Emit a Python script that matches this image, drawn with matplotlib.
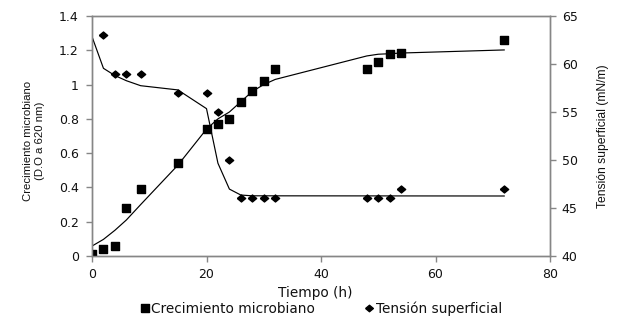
import matplotlib
matplotlib.use("Agg")
import matplotlib.pyplot as plt
from matplotlib.lines import Line2D

plt.rcParams['font.family'] = ['DejaVu Sans']

# Growth data (D.O a 620 nm)
t_growth = [0, 2, 4, 6, 8.5, 15, 20, 22, 24, 26, 28, 30, 32, 48, 50, 52, 54, 72]
growth = [0.01, 0.04, 0.06, 0.28, 0.39, 0.54, 0.74, 0.77, 0.80, 0.90, 0.96, 1.02, 1.09,
          1.09, 1.13, 1.18, 1.185, 1.26]

# Surface tension data (mN/m)
t_tension = [2, 4, 6, 8.5, 15, 20, 22, 24, 26, 28, 30, 32, 48, 50, 52, 54, 72]
tension = [63, 59, 59, 59, 57, 57, 55, 50, 46, 46, 46, 46, 46, 46, 46, 47, 47]

# Fitted model curves
t_fit_g = [0, 2, 4, 6, 8.5, 15, 20, 22, 24, 26, 28, 30, 32, 48, 50, 52, 54, 72]
fit_growth = [0.058, 0.097, 0.15, 0.21, 0.30, 0.53, 0.74, 0.80, 0.84, 0.90, 0.96, 1.0, 1.03,
              1.167, 1.177, 1.18, 1.184, 1.202]
t_fit_t = [0, 2, 4, 6, 8.5, 15, 20, 22, 24, 26, 28, 72]
fit_tension = [62.85, 59.55, 58.8, 58.26, 57.74, 57.3, 55.35, 49.66, 46.97, 46.35, 46.27, 46.25]

SQ = [(-1.15, -1), (1.15, -1), (1.15, 1), (-1.15, 1), (-1.15, -1)]
DIA = [(-1.2, 0), (0, -1), (1.2, 0), (0, 1), (-1.2, 0)]

fig = plt.figure(figsize=(6.17, 3.2), dpi=100)
ax = fig.add_axes([92/617, 64/320, 458/617, 240/320])
ax2 = ax.twinx()

gray = '#868686'
ax.plot(t_fit_g, fit_growth, color='black', lw=0.85, zorder=2)
ax.plot(t_growth, growth, linestyle='none', marker=SQ, ms=6.0, color='black', zorder=3)
ax2.plot(t_fit_t, fit_tension, color='black', lw=0.85, zorder=2)
ax2.plot(t_tension, tension, linestyle='none', marker=DIA, ms=6.0, color='black', zorder=3)

ax.set_xlim(0, 80)
ax.set_ylim(0, 1.4)
ax2.set_ylim(40, 65)
ax.set_xticks([0, 20, 40, 60, 80])
ax.set_yticks([0, 0.2, 0.4, 0.6, 0.8, 1.0, 1.2, 1.4])
ax.set_yticklabels(['0', '0.2', '0.4', '0.6', '0.8', '1', '1.2', '1.4'])
ax2.set_yticks([40, 45, 50, 55, 60, 65])

for a in (ax, ax2):
    for s in a.spines.values():
        s.set_color(gray)
        s.set_linewidth(1.0)
    a.tick_params(colors=gray, labelcolor='#111111', labelsize=9, length=4, width=1,
                  direction='out')
ax.tick_params(axis='y', pad=5.5)
ax.tick_params(axis='x', pad=4.5)
ax2.tick_params(axis='y', pad=4.5)

fig.text(315/617, 1 - 293/320, 'Tiempo (h)', fontsize=9.8, ha='center', va='center',
         color='#111111')
fig.text(34/617, 1 - 141/320, 'Crecimiento microbiano\n(D.O a 620 nm)', rotation=90,
         fontsize=8.2, linespacing=1.15, ha='center', va='center', color='#111111',
         family=['Liberation Sans', 'DejaVu Sans'])
fig.text(603/617, 1 - 136/320, 'Tensión superficial (mN/m)', rotation=90,
         fontsize=8.7, ha='center', va='center', color='#111111',
         family=['Liberation Sans', 'DejaVu Sans'])

handles = [Line2D([], [], linestyle='none', marker=SQ, ms=6.3, color='black'),
           Line2D([], [], linestyle='none', marker=DIA, ms=5.6, color='black')]
leg = fig.legend(handles, ['Crecimiento microbiano', 'Tensión superficial'],
                 loc='center', bbox_to_anchor=(321/617, 1 - 309/320), ncol=2, frameon=False,
                 fontsize=9.8, handletextpad=0.15, columnspacing=3.6, handlelength=0.7,
                 borderpad=0, borderaxespad=0)
for t in leg.get_texts():
    t.set_color('#111111')

fig.savefig('out.png', dpi=100)
